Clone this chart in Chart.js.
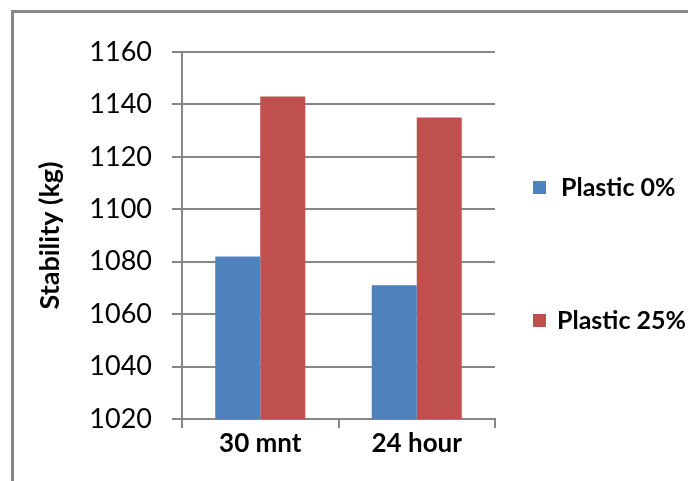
<!DOCTYPE html>
<html>
<head>
<meta charset="utf-8">
<script src="https://cdn.jsdelivr.net/npm/chart.js@4.4.1/dist/chart.umd.min.js"></script>
<style>
  html, body { margin: 0; padding: 0; background: #ffffff; }
  #wrap { position: relative; width: 688px; height: 481px; overflow: hidden; }
  #frame { position: absolute; left: 11px; top: 10px; width: 720px; height: 520px;
           border-top: 3px solid #878787; border-left: 3px solid #878787; box-sizing: border-box; }
  canvas { position: absolute; left: 0; top: 0; }
</style>
</head>
<body>
<div id="wrap">
  <div id="frame"></div>
  <canvas id="c" width="688" height="481"></canvas>
</div>
<script>
const categories = ["30 mnt", "24 hour"];
const seriesNames = ["Plastic 0%", "Plastic 25%"];
const plastic0 = [1082, 1071];
const plastic25 = [1143, 1135];
const yMin = 1020, yMax = 1160, yStep = 20;
const yTitle = "Stability (kg)";
const colors = ["#4F81BD", "#C0504D"];

const FONT = "Lato, 'Open Sans', sans-serif";
const gridColor = "#868686";

const legendPlugin = {
  id: "sideLegend",
  afterDraw(chart) {
    const ctx = chart.ctx;
    const area = chart.chartArea;
    const offsets = [136, 269];
    const textGap = [28, 24];
    ctx.save();
    chart.data.datasets.forEach((ds, i) => {
      const cy = area.top + offsets[i];
      const x0 = area.right + 38;
      ctx.fillStyle = ds.backgroundColor;
      ctx.fillRect(x0, cy - 7, 13, 13);
      ctx.fillStyle = "#000";
      ctx.font = "bold 25px " + FONT;
      ctx.textBaseline = "middle";
      ctx.textAlign = "left";
      ctx.fillText(ds.label, x0 + textGap[i], cy);
    });
    ctx.restore();
  }
};

new Chart(document.getElementById("c"), {
  type: "bar",
  data: {
    labels: categories,
    datasets: [
      { label: seriesNames[0], data: plastic0, backgroundColor: colors[0],
        categoryPercentage: 0.575, barPercentage: 1.0 },
      { label: seriesNames[1], data: plastic25, backgroundColor: colors[1],
        categoryPercentage: 0.575, barPercentage: 1.0 }
    ]
  },
  options: {
    responsive: false,
    animation: false,
    devicePixelRatio: 1,
    layout: { padding: { left: 32, top: 52, right: 193, bottom: 22 } },
    plugins: {
      legend: { display: false },
      tooltip: { enabled: false },
      title: { display: false }
    },
    scales: {
      x: {
        afterFit(scale) { scale.height = 40; },
        grid: { display: true, drawOnChartArea: false, drawTicks: true, tickLength: 9,
                color: gridColor, lineWidth: 2, offset: true },
        border: { display: true, color: gridColor, width: 2 },
        ticks: { color: "#000", padding: 0, font: { family: FONT, size: 26, weight: "bold" } }
      },
      y: {
        min: yMin, max: yMax,
        afterFit(scale) { scale.width = 150; },
        ticks: { stepSize: yStep, color: "#000", padding: 20,
                 callback: (v) => String(v),
                 font: { family: FONT, size: 27 } },
        grid: { color: gridColor, lineWidth: 2, drawTicks: true, tickLength: 10 },
        border: { display: true, color: gridColor, width: 2 },
        title: { display: true, text: yTitle, color: "#000",
                 font: { family: FONT, size: 27, weight: "bold" }, padding: { top: 2, bottom: 4 } }
      }
    }
  },
  plugins: [legendPlugin]
});
</script>
</body>
</html>
